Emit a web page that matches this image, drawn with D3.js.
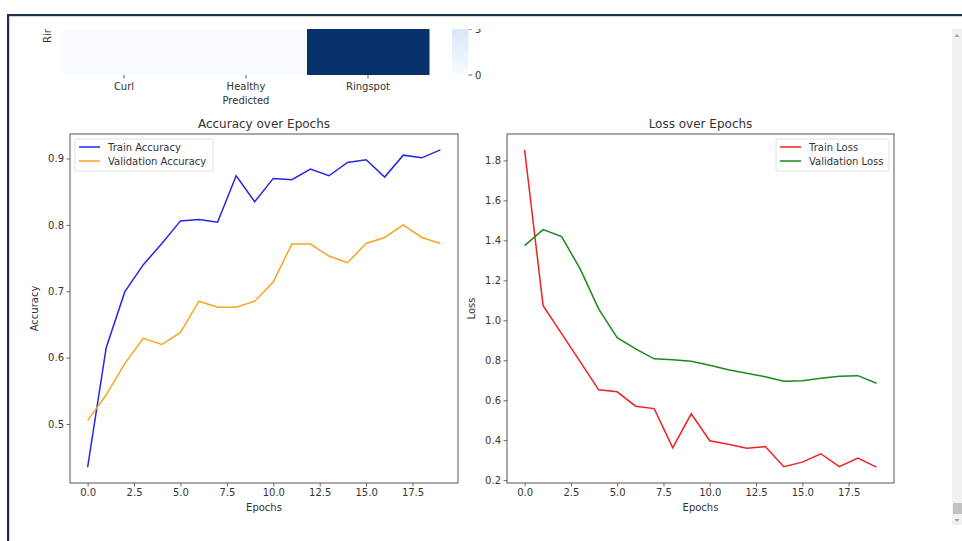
<!DOCTYPE html>
<html><head><meta charset="utf-8">
<script src="https://cdn.jsdelivr.net/npm/d3@7"></script>
<style>
html,body{margin:0;padding:0;background:#fff;overflow:hidden;}
text{font-family:"DejaVu Sans",sans-serif;fill:#333;}
</style></head>
<body>
<svg id="c" width="962" height="541"></svg>
<script>
// ---- data ----
const epochs = d3.range(20);
const trainAcc = [0.435,0.615,0.699,0.740,0.772,0.806,0.808,0.804,0.874,0.835,0.870,0.868,0.884,0.874,0.894,0.898,0.872,0.905,0.901,0.913];
const valAcc   = [0.505,0.544,0.591,0.629,0.620,0.638,0.685,0.676,0.676,0.685,0.714,0.771,0.771,0.753,0.743,0.772,0.781,0.800,0.781,0.772];
const trainLoss= [1.853,1.073,0.933,0.793,0.652,0.642,0.570,0.558,0.362,0.532,0.397,0.380,0.360,0.368,0.267,0.290,0.332,0.267,0.310,0.265];
const valLoss  = [1.374,1.454,1.419,1.257,1.057,0.913,0.857,0.807,0.803,0.795,0.775,0.752,0.735,0.717,0.695,0.697,0.710,0.720,0.723,0.685];
const xTicks = [0,2.5,5,7.5,10,12.5,15,17.5];
const accTicks = [0.5,0.6,0.7,0.8,0.9];
const lossTicks = [0.2,0.4,0.6,0.8,1.0,1.2,1.4,1.6,1.8];
const predCats = ["Curl","Healthy","Ringspot"];
const ringspotRow = [0,0,33];
const cbarTicks = [0,5];

const svg = d3.select("#c");

// page frame
svg.append("rect").attr("x",7).attr("y",14).attr("width",955).attr("height",2.2).attr("fill","#1e2e4e");
svg.append("rect").attr("x",7).attr("y",14).attr("width",2.2).attr("height",527).attr("fill","#1e2e4e");

// scrollbar
svg.append("rect").attr("x",952).attr("y",29).attr("width",10).attr("height",496).attr("fill","#f1f1f1");
svg.append("rect").attr("x",953).attr("y",503).attr("width",9).attr("height",11).attr("fill","#c1c1c1");
svg.append("path").attr("d","M954.5,37 L957,34 L959.5,37 Z").attr("fill","#a3a3a3");
svg.append("path").attr("d","M954.5,519 L957,522 L959.5,519 Z").attr("fill","#a3a3a3");

// ---- heatmap remnant ----
const clip = svg.append("defs").append("clipPath").attr("id","topclip");
clip.append("rect").attr("x",0).attr("y",29).attr("width",962).attr("height",512);
const hm = svg.append("g").attr("clip-path","url(#topclip)");
const hx = d3.scaleBand().domain(predCats).range([63,429]);
const hcol = d3.scaleSequential(d3.interpolateBlues).domain([0,33]);
const rowBottom = 75, rowH = 108;
hm.selectAll("rect.cell").data(predCats).join("rect")
  .attr("x",d=>hx(d)).attr("y",rowBottom-rowH).attr("width",hx.bandwidth()+0.5).attr("height",rowH)
  .attr("fill",(d,i)=>hcol(ringspotRow[i]));
hm.append("text").attr("transform",`translate(51,${rowBottom-rowH/2}) rotate(-90)`)
  .attr("text-anchor","middle").attr("font-size",10).text("Ringspot");
predCats.forEach(c=>{
  const cx = hx(c)+hx.bandwidth()/2;
  hm.append("line").attr("x1",cx).attr("x2",cx).attr("y1",75).attr("y2",78.5).attr("stroke","#333").attr("stroke-width",0.8);
  hm.append("text").attr("x",cx).attr("y",90).attr("text-anchor","middle").attr("font-size",10).text(c);
});
hm.append("text").attr("x",hx("Healthy")+hx.bandwidth()/2).attr("y",104).attr("text-anchor","middle").attr("font-size",10).text("Predicted");
// colorbar
const cy = d3.scaleLinear().domain([0,5]).range([75,29]);
const grad = svg.select("defs").append("linearGradient").attr("id","cbg").attr("x1",0).attr("y1",1).attr("x2",0).attr("y2",0);
d3.range(0,1.01,0.1).forEach(t=>grad.append("stop").attr("offset",t).attr("stop-color",hcol(t*33)));
hm.append("rect").attr("x",452).attr("y",cy(33)).attr("width",16.5).attr("height",cy(0)-cy(33)).attr("fill","url(#cbg)");
cbarTicks.forEach(t=>{
  hm.append("line").attr("x1",468.5).attr("x2",472).attr("y1",cy(t)).attr("y2",cy(t)).attr("stroke","#333").attr("stroke-width",0.8);
  hm.append("text").attr("x",475).attr("y",cy(t)).attr("dy","0.35em").attr("font-size",10).text(t);
});

// ---- line charts ----
function panel(opts){
  const {x0,x1,y0,y1,series,yTicks,title,ylabel,legendRight} = opts;
  const g = svg.append("g");
  const x = d3.scaleLinear().domain([-0.95,19.95]).range([x0,x1]);
  const all = series.flatMap(s=>s.values);
  const [mn,mx] = d3.extent(all); const pad=(mx-mn)*0.05;
  const y = d3.scaleLinear().domain([mn-pad,mx+pad]).range([y1,y0]);
  const xa = g.append("g").attr("transform",`translate(0,${y1})`)
    .call(d3.axisBottom(x).tickValues(xTicks).tickFormat(d3.format(".1f")).tickSize(3.5).tickPadding(2.5));
  const ya = g.append("g").attr("transform",`translate(${x0},0)`)
    .call(d3.axisLeft(y).tickValues(yTicks).tickFormat(d3.format(".1f")).tickSize(3.5).tickPadding(2.5));
  [xa,ya].forEach(a=>{a.select(".domain").remove();a.selectAll("line").attr("stroke","#444").attr("stroke-width",0.8);a.selectAll("text").attr("font-size",10).attr("fill","#333").attr("font-family","DejaVu Sans");});
  const line = d3.line().x((d,i)=>x(epochs[i])).y(d=>y(d));
  series.forEach(s=>g.append("path").attr("d",line(s.values)).attr("fill","none").attr("stroke",s.color).attr("stroke-width",1.5));
  g.append("rect").attr("x",x0).attr("y",y0).attr("width",x1-x0).attr("height",y1-y0).attr("fill","none").attr("stroke","#555").attr("stroke-width",1);
  g.append("text").attr("x",(x0+x1)/2).attr("y",y0-6).attr("text-anchor","middle").attr("font-size",12).text(title);
  g.append("text").attr("x",(x0+x1)/2).attr("y",y1+28).attr("text-anchor","middle").attr("font-size",10).text("Epochs");
  g.append("text").attr("transform",`translate(${x0-32},${(y0+y1)/2}) rotate(-90)`).attr("text-anchor","middle").attr("font-size",10).text(ylabel);
  // legend
  const lw = opts.legendW, lx = legendRight ? x1-5-lw : x0+5, ly = y0+5;
  g.append("rect").attr("x",lx).attr("y",ly).attr("width",lw).attr("height",32).attr("rx",2).attr("fill","#fff").attr("stroke","#d8d8d8").attr("stroke-width",0.8);
  series.forEach((s,i)=>{
    const yy = ly+8+i*14;
    g.append("line").attr("x1",lx+4).attr("x2",lx+25).attr("y1",yy).attr("y2",yy).attr("stroke",s.color).attr("stroke-width",1.5);
    g.append("text").attr("x",lx+33).attr("y",yy).attr("dy","0.35em").attr("font-size",10).text(s.name);
  });
}
panel({x0:70,x1:458,y0:134,y1:483,yTicks:accTicks,title:"Accuracy over Epochs",ylabel:"Accuracy",legendRight:false,legendW:138,
  series:[{name:"Train Accuracy",values:trainAcc,color:"#2525ee"},{name:"Validation Accuracy",values:valAcc,color:"#f5a623"}]});
panel({x0:507,x1:894,y0:134,y1:483,yTicks:lossTicks,title:"Loss over Epochs",ylabel:"Loss",legendRight:true,legendW:113,
  series:[{name:"Train Loss",values:trainLoss,color:"#ee2222"},{name:"Validation Loss",values:valLoss,color:"#1a8a1a"}]});
</script>
</body></html>
